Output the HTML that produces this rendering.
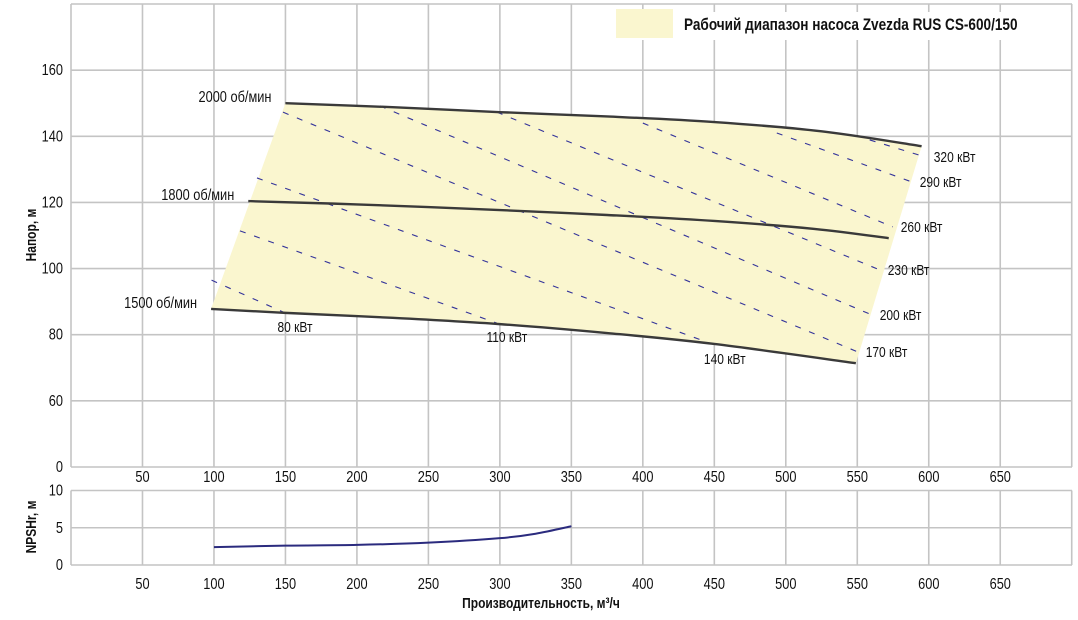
<!DOCTYPE html>
<html><head><meta charset="utf-8"><style>
html,body{margin:0;padding:0;background:#fff;}
svg{display:block;font-family:"Liberation Sans Narrow","Liberation Sans",sans-serif;}
</style></head><body>
<svg id="chart" width="1078" height="620" viewBox="0 0 1078 620" xmlns="http://www.w3.org/2000/svg">
<g id="grid"></g>
<g id="marks"></g>
<g id="labels"></g>
</svg>
<script>
const xTicks = [50,100,150,200,250,300,350,400,450,500,550,600,650];
const yGrid = [40,60,80,100,120,140,160,180];
const yTickLabels = [["0",40],["60",60],["80",80],["100",100],["120",120],["140",140],["160",160]];
const npshTicks = [0,5,10];
const curve2000 = [[150,150],[225,148.8],[300,147.3],[375,146],[450,144.3],[525,141.5],[595,137]];
const curve1800 = [[124,120.4],[200,119.4],[300,117.7],[375,116.2],[450,114.4],[520,112],[572,109.2]];
const curve1500 = [[98,87.8],[150,86.6],[225,85.1],[300,83.2],[375,80.5],[450,77.2],[549,71.4]];
const npshCurve = [[100,2.4],[150,2.6],[200,2.7],[250,3.0],[300,3.6],[325,4.2],[350,5.2]];
const powerNames = ["80","110","140","170","200","230","260","290","320"];
const powerStart = [[98.3,96.5],[118.2,111.4],[130.1,127.4],[148.3,147.3],[216.1,149.2],[297.9,147.3],[400,144.0],[493.7,141.0],[558.7,138.9]];
const powerEnd = [[149.7,86.6],[297.9,83.5],[450.3,76.9],[550.3,74.8],[560.1,86.0],[565.7,99.6],[574.8,112.6],[588.1,126.2],[597.9,133.7]];

const NS="http://www.w3.org/2000/svg";
const X = q => 71 + q*1.4296;
const Y = h => 4 + (180-h)*3.3071;
const YN = v => 565 - v*7.45;
const SX = 0.8;
function el(tag, attrs, parent){const e=document.createElementNS(NS,tag);for(const k in attrs)e.setAttribute(k,attrs[k]);parent.appendChild(e);return e;}
const grid=document.getElementById('grid'), marks=document.getElementById('marks'), labels=document.getElementById('labels');
const G='#c4c4c4';
for(const h of yGrid){const l=el('line',{x1:71,x2:1072,y1:Y(h),y2:Y(h),stroke:G,'stroke-width':1.6},grid);

}
for(const q of [0,...xTicks,700]){const l=el('line',{x1:X(q),x2:X(q),y1:4,y2:467,stroke:G,'stroke-width':1.6},grid);

}
for(const v of npshTicks){const l=el('line',{x1:71,x2:1072,y1:YN(v),y2:YN(v),stroke:G,'stroke-width':1.6},grid);

}
for(const q of [0,...xTicks,700]){const l=el('line',{x1:X(q),x2:X(q),y1:YN(10),y2:565,stroke:G,'stroke-width':1.6},grid);

}
function txt(s,x,y,opts,name,rot){const o=Object.assign({x:0,y:0,'font-size':16,fill:'#111'},opts||{});
o.transform='translate('+x+','+y+')'+(rot?' rotate('+rot+')':'')+' scale('+SX+',1)';
const t=el('text',o,labels);t.textContent=s;

return t;}
for(const q of xTicks){txt(String(q),X(q),482,{'text-anchor':'middle'},'x-tick-label');txt(String(q),X(q),589,{'text-anchor':'middle'},'npsh-x-tick-label');}
for(const [s,h] of yTickLabels){txt(s,63,Y(h)+5,{'text-anchor':'end'},'y-tick-label');}
for(const v of npshTicks){txt(String(v),63,YN(v)+5,{'text-anchor':'end'},'npsh-y-tick-label');}
function pathFrom(pts,fx,fy){return pts.map((p,i)=>(i?'L':'M')+fx(p[0]).toFixed(1)+','+fy(p[1]).toFixed(1)).join(' ');}
function smooth(pts,fx,fy){const P=pts.map(p=>[fx(p[0]),fy(p[1])]);let d='M'+P[0][0]+','+P[0][1];
for(let i=0;i<P.length-1;i++){const p0=P[i-1]||P[i],p1=P[i],p2=P[i+1],p3=P[i+2]||p2;
d+=' C'+(p1[0]+(p2[0]-p0[0])/6)+','+(p1[1]+(p2[1]-p0[1])/6)+' '+(p2[0]-(p3[0]-p1[0])/6)+','+(p2[1]-(p3[1]-p1[1])/6)+' '+p2[0]+','+p2[1];}return d;}
const region=[...curve2000,...curve1500.slice().reverse()];
const reg=el('path',{d:pathFrom(region,X,Y)+' Z',fill:'#faf6cf',stroke:'none'},marks);


for(let i=0;i<powerNames.length;i++){const s=powerStart[i],e=powerEnd[i];
const l=el('line',{x1:X(s[0]),y1:Y(s[1]),x2:X(e[0]),y2:Y(e[1]),stroke:'#33339a','stroke-width':1.1,'stroke-dasharray':'6 9'},marks);


let lx,ly,anchor='start';
if(i<3){lx=X(e[0])+10;ly=Y(e[1])+19;anchor='middle';}else{lx=X(e[0])+8;ly=Y(e[1])+5;}
txt(powerNames[i]+' кВт',lx,ly,{'text-anchor':anchor,'font-size':15},'power-label-'+powerNames[i]);}
const curves=[[curve2000,'2000'],[curve1800,'1800'],[curve1500,'1500']];
for(const [c,n] of curves){const p=el('path',{d:smooth(c,X,Y),fill:'none',stroke:'#3a3a3a','stroke-width':2.4},marks);


txt(n+' об/мин',X(c[0][0])-14,Y(c[0][1])-1,{'text-anchor':'end','font-size':16},'label-'+n+'-rpm');}
const np=el('path',{d:smooth(npshCurve,X,YN),fill:'none',stroke:'#2b2b7e','stroke-width':2},marks);


const lb=el('rect',{x:575,y:12,width:496,height:28,fill:'#fff'},labels);


const sw=el('rect',{x:616,y:9,width:57,height:29,fill:'#faf6cf'},labels);


txt('Рабочий диапазон насоса Zvezda RUS CS-600/150',684,30,{'font-size':17,'font-weight':'bold'},'legend-label');
txt('Напор, м',36,235,{'font-size':15,'font-weight':'bold','text-anchor':'middle'},'y-axis-title',-90);
txt('NPSHr, м',36,527,{'font-size':15,'font-weight':'bold','text-anchor':'middle'},'npsh-axis-title',-90);
txt('Производительность, м³/ч',541,608,{'font-size':15,'font-weight':'bold','text-anchor':'middle'},'x-axis-title');
</script>
</body></html>
